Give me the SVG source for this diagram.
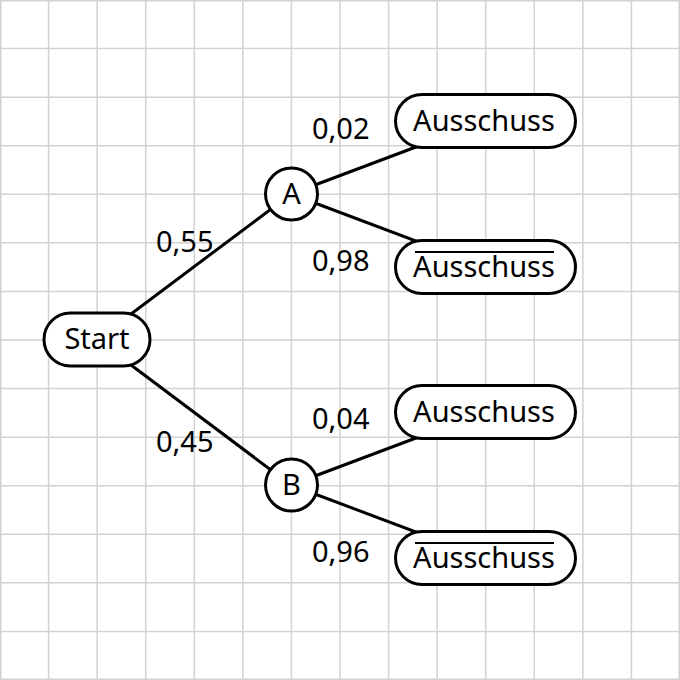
<svg xmlns="http://www.w3.org/2000/svg" width="680" height="680" viewBox="0 0 680 680">
<style>
.grid{stroke:#d2d2d2;stroke-width:1.5;fill:none}
.edge{stroke:#000;stroke-width:3;fill:none}
.box{fill:#fff;stroke:#000;stroke-width:3}
.t{font-family:"Noto Sans","DejaVu Sans",sans-serif;font-size:29px;fill:#000}
.c{text-anchor:middle}
</style>
<rect width="680" height="680" fill="#fff"/>
<path class="grid" d="M0.75 0V680M48.57 0V680M97.14 0V680M145.71 0V680M194.29 0V680M242.86 0V680M291.43 0V680M340 0V680M388.57 0V680M437.14 0V680M485.71 0V680M534.29 0V680M582.86 0V680M631.43 0V680M679.25 0V680
M0 0.75H680M0 48.57H680M0 97.14H680M0 145.71H680M0 194.29H680M0 242.86H680M0 291.43H680M0 340H680M0 388.57H680M0 437.14H680M0 485.71H680M0 534.29H680M0 582.86H680M0 631.43H680M0 679.25H680"/>
<g id="connectors">
<line class="edge" x1="97" y1="339.5" x2="291" y2="194"/>
<line class="edge" x1="97" y1="339.5" x2="291" y2="485"/>
<line class="edge" x1="291" y1="194" x2="485" y2="121"/>
<line class="edge" x1="291" y1="194" x2="485" y2="267"/>
<line class="edge" x1="291" y1="485" x2="485" y2="412"/>
<line class="edge" x1="291" y1="485" x2="485" y2="558"/>
</g>
<g id="labels">
<text class="t" x="156" y="251.5">0,55</text>
<text class="t" x="156" y="452">0,45</text>
<text class="t" x="312" y="139">0,02</text>
<text class="t" x="312" y="271">0,98</text>
<text class="t" x="312" y="429">0,04</text>
<text class="t" x="312" y="562">0,96</text>
</g>
<g id="start">
<rect class="box" x="44" y="313" width="106" height="53" rx="26.5"/>
<text class="t c" x="97" y="349.3">Start</text>
</g>
<g id="A">
<circle class="box" cx="291.5" cy="194" r="26"/>
<text class="t c" x="291.5" y="204.3">A</text>
</g>
<g id="B">
<circle class="box" cx="291.5" cy="485" r="26"/>
<text class="t c" x="291.5" y="495">B</text>
</g>
<g id="A_ausschuss">
<rect class="box" x="395.5" y="94.5" width="180" height="53" rx="26.5"/>
<text class="t c" x="484" y="130.7">Ausschuss</text>
</g>
<g id="A_nicht_ausschuss">
<rect class="box" x="395.5" y="240.5" width="180" height="53" rx="26.5"/>
<text class="t c" x="484" y="276.7">Ausschuss</text>
<line x1="415" y1="252" x2="554" y2="252" stroke="#000" stroke-width="2"/>
</g>
<g id="B_ausschuss">
<rect class="box" x="395.5" y="385.5" width="180" height="53" rx="26.5"/>
<text class="t c" x="484" y="421.7">Ausschuss</text>
</g>
<g id="B_nicht_ausschuss">
<rect class="box" x="395.5" y="531.5" width="180" height="53" rx="26.5"/>
<text class="t c" x="484" y="567.7">Ausschuss</text>
<line x1="415" y1="543" x2="554" y2="543" stroke="#000" stroke-width="2"/>
</g>
</svg>
